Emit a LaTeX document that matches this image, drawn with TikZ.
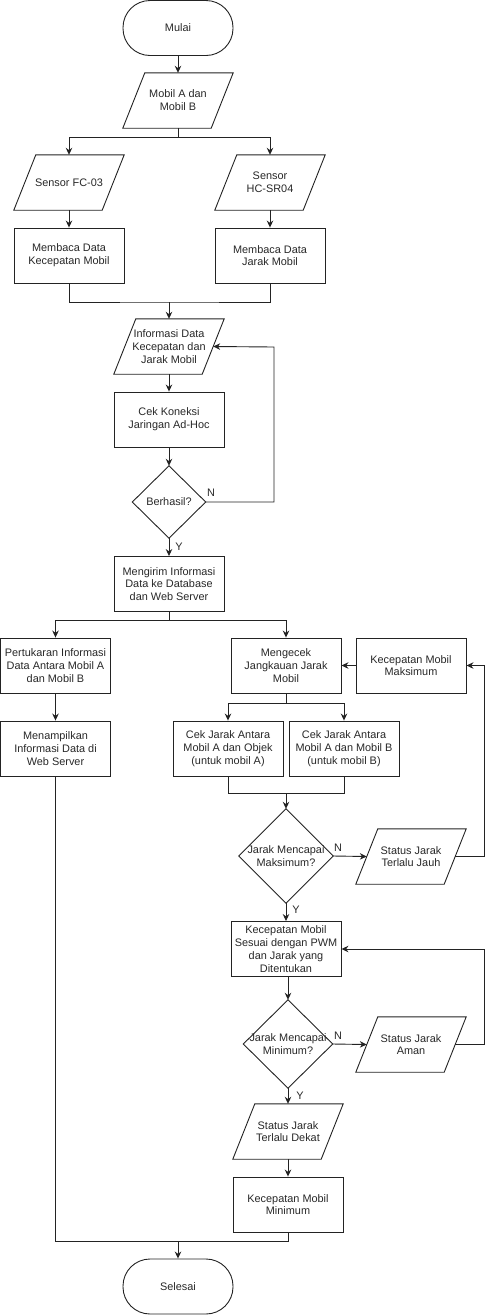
\documentclass[tikz,border=0pt]{standalone}
\usepackage{fontspec}
\setmainfont{Liberation Sans}
\usetikzlibrary{arrows.meta}
\definecolor{lncol}{RGB}{35,35,35}
\definecolor{txcol}{RGB}{40,40,40}
\begin{document}
\begin{tikzpicture}[x=1pt,y=-1pt,
  base/.style={minimum width=110pt, minimum height=55pt, inner sep=1pt, align=center,
    font=\fontsize{10.9}{12.8}\selectfont, text=txcol},
  proc/.style={base, draw=lncol, line width=0.9pt},
  term/.style={proc, rounded corners=27pt},
  io/.style={base},
  dec/.style={base},
  wire/.style={draw=lncol, line width=0.9pt},
  arr/.style={wire, -{Stealth[length=7pt,width=6.5pt]}},
  lbl/.style={font=\fontsize{10.9}{12.8}\selectfont, text=txcol, inner sep=0pt}]
\useasboundingbox (0,0) rectangle (492,1315);

% nodes
\node[term] (start) at (178,28) {Mulai};
\node[io] (in1) at (178,100.5) {Mobil A dan\\Mobil B};
\node[io] (s1) at (69,182.5) {Sensor FC-03};
\node[io] (s2) at (270,182.5) {Sensor\\HC-SR04};
\node[proc] (r1) at (69,255.5) {Membaca Data\\Kecepatan Mobil};
\node[proc] (r2) at (270,255.5) {Membaca Data\\Jarak Mobil};
\node[io] (in2) at (169,346.5) {Informasi Data\\Kecepatan dan\\Jarak Mobil};
\node[proc] (r3) at (169,419.5) {Cek Koneksi\\Jaringan Ad-Hoc};
\node[dec, minimum width=73pt, minimum height=72pt] (d1) at (169,502) {Berhasil?};
\node[proc] (r4) at (169,584) {Mengirim Informasi\\Data ke Database\\dan Web Server};
\node[proc] (r5) at (55.5,665.5) {Pertukaran Informasi\\Data Antara Mobil A\\dan Mobil B};
\node[proc] (r6) at (55.5,748.5) {Menampilkan\\Informasi Data di\\Web Server};
\node[proc] (r7) at (286,665.5) {Mengecek\\Jangkauan Jarak\\Mobil};
\node[proc] (r8) at (411,665.5) {Kecepatan Mobil\\Maksimum};
\node[proc] (r9) at (228,748.5) {Cek Jarak Antara\\Mobil A dan Objek\\(untuk mobil A)};
\node[proc] (r10) at (344,748.5) {Cek Jarak Antara\\Mobil A dan Mobil B\\(untuk mobil B)};
\node[dec, minimum width=94pt, minimum height=94pt] (d2) at (286,856) {Jarak Mencapai\\Maksimum?};
\node[io] (p3) at (411,856.5) {Status Jarak\\Terlalu Jauh};
\node[proc] (r11) at (286,949) {Kecepatan Mobil\\Sesuai dengan PWM\\dan Jarak yang\\Ditentukan};
\node[dec, minimum width=89pt, minimum height=88pt] (d3) at (288,1044) {Jarak Mencapai\\Minimum?};
\node[io] (p4) at (411,1044.5) {Status Jarak\\Aman};
\node[io] (p5) at (288,1131.5) {Status Jarak\\Terlalu Dekat};
\node[proc] (r12) at (288,1204.5) {Kecepatan Mobil\\Minimum};
\node[term] (stop) at (178,1286.5) {Selesai};

% parallelograms and diamonds
\foreach \n in {in1,s1,s2,in2,p3,p4,p5}
  \draw[wire] (\n.south west) -- ([xshift=22pt]\n.north west) -- (\n.north east)
    -- ([xshift=-22pt]\n.south east) -- cycle;
\foreach \n in {d1,d2,d3}
  \draw[wire] (\n.north) -- (\n.east) -- (\n.south) -- (\n.west) -- cycle;

% junctions
\coordinate (j1) at (178,137);
\coordinate (j2) at (169,302);
\coordinate (l1) at (274,347);
\coordinate (j3) at (169,620);
\coordinate (j4) at (286,703);
\coordinate (j5) at (286,793);
\coordinate (l2) at (484,665.5);
\coordinate (l3) at (484,949);
\coordinate (j6) at (178,1241);

% connectors
\draw[arr] (start) -- (in1);
\draw[wire] (in1.south) -- (j1);
\draw[arr] (j1) -| (s1.north);
\draw[arr] (j1) -| (s2.north);
\draw[arr] (s1.south) -- (r1.north);
\draw[arr] (s2.south) -- (r2.north);
\draw[wire] (r1.south) |- (j2) -| (r2.south);
\draw[arr] (j2) -- (in2.north);
\draw[arr] (in2.south) -- (r3.north);
\draw[arr] (r3.south) -- (d1.north);
\draw[arr] (d1.south) -- (r4.north);
\draw[arr] (d1.east) -| (l1) -- ([xshift=-11pt]in2.east);
\draw[wire] (r4.south) -- (j3);
\draw[arr] (j3) -| (r5.north);
\draw[arr] (j3) -| (r7.north);
\draw[arr] (r5.south) -- (r6.north);
\draw[arr] (r8.west) -- (r7.east);
\draw[wire] (r7.south) -- (j4);
\draw[arr] (j4) -| (r9.north);
\draw[arr] (j4) -| (r10.north);
\draw[wire] (r9.south) |- (j5) -| (r10.south);
\draw[arr] (j5) -- (d2.north);
\draw[arr] (d2.east) -- ([xshift=11pt]p3.west);
\draw[arr] ([xshift=-11pt]p3.east) -| (l2) -- (r8.east);
\draw[arr] (d2.south) -- (r11.north);
\draw[arr] (r11.south -| d3.north) -- (d3.north);
\draw[arr] (d3.east) -- ([xshift=11pt]p4.west);
\draw[arr] ([xshift=-11pt]p4.east) -| (l3) -- (r11.east);
\draw[arr] (d3.south) -- (p5.north);
\draw[arr] (p5.south) -- (r12.north);
\draw[wire] (r6.south) |- (j6);
\draw[wire] (r12.south) |- (j6);
\draw[arr] (j6) -- (stop.north);

% labels
\node[lbl] (n1) at (211,493) {N};
\node[lbl] (y1) at (179,547) {Y};
\node[lbl] (n2) at (338,848) {N};
\node[lbl] (y2) at (296,910) {Y};
\node[lbl] (n3) at (338,1036) {N};
\node[lbl] (y3) at (300,1096) {Y};
\end{tikzpicture}
\end{document}
